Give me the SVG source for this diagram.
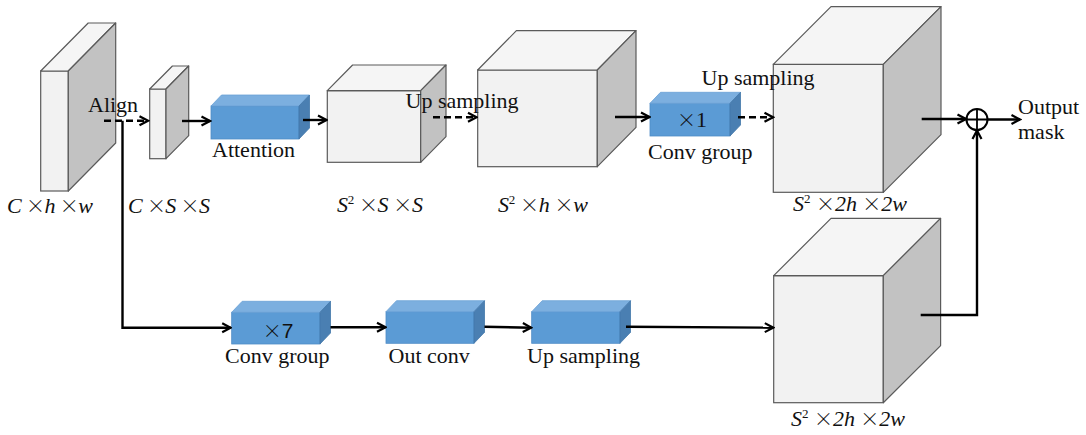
<svg xmlns="http://www.w3.org/2000/svg" width="1086" height="435" viewBox="0 0 1086 435">
  <style>
    .front { fill: #f2f2f2; stroke: #5a5a5a; stroke-width: 1.2; }
    .top { fill: #f5f5f5; stroke: #5a5a5a; stroke-width: 1.2; stroke-linejoin: round; }
    .side { fill: #c2c2c2; stroke: #5a5a5a; stroke-width: 1.2; stroke-linejoin: round; }
    .bfront { fill: #5b9bd5; stroke: #4f8cc6; stroke-width: 0.8; }
    .btop { fill: #7cafdf; stroke: #6aa1d6; stroke-width: 0.8; }
    .bside { fill: #4a7fb2; stroke: #4377aa; stroke-width: 0.8; }
    .lbl { font-family: "Liberation Serif", "Times New Roman", serif; font-size: 22px; fill: #111; }
    .dim { font-family: "Liberation Serif", "Times New Roman", serif; font-size: 22px; fill: #111; }
    .it { font-style: italic; }
    .x { font-family: "Noto Sans CJK SC", "Liberation Serif", sans-serif; font-size: 19px; font-style: normal; font-weight: 300; }
    .sup { font-size: 13px; }
    .wire { fill: none; stroke: #000; stroke-width: 2.4; }
    .dash { stroke-dasharray: 7 4; }
  </style>
  <defs>
    <marker id="arrow" viewBox="0 0 12 12" refX="10.5" refY="6" markerWidth="12" markerHeight="12" markerUnits="userSpaceOnUse" orient="auto">
      <path d="M2,1.5 L10.5,6 L2,10.5" fill="none" stroke="#000" stroke-width="2.2" stroke-linejoin="miter"/>
    </marker>
  </defs>

  <rect width="1086" height="435" fill="#ffffff"/>

  <!-- input feature map C x h x w -->
  <g id="feat-input">
    <rect class="front" x="40.7" y="71" width="27.6" height="120"/>
    <polygon class="top" points="40.7,71 88.2,23 115.7,23 68.3,71"/>
    <polygon class="side" points="68.3,71 115.7,23 115.7,143 68.3,191"/>
    <text class="dim" x="7" y="213" textLength="86" lengthAdjust="spacing"><tspan class="it">C</tspan> <tspan class="x">×</tspan><tspan class="it">h</tspan> <tspan class="x">×</tspan><tspan class="it">w</tspan></text>
  </g>

  <!-- aligned feature C x S x S -->
  <g id="feat-align">
    <rect class="front" x="149.7" y="89" width="16.3" height="69.7"/>
    <polygon class="top" points="149.7,89 172.4,66 188.7,66 166,89"/>
    <polygon class="side" points="166,89 188.7,66 188.7,135.7 166,158.7"/>
    <text class="dim" x="128" y="213" textLength="82" lengthAdjust="spacing"><tspan class="it">C</tspan> <tspan class="x">×</tspan><tspan class="it">S</tspan> <tspan class="x">×</tspan><tspan class="it">S</tspan></text>
  </g>

  <!-- attention block -->
  <g id="attention">
    <rect class="bfront" x="211" y="106" width="88" height="33"/>
    <polygon class="btop" points="211,106 221.5,95 309.5,95 299,106"/>
    <polygon class="bside" points="299,106 309.5,95 309.5,128 299,139"/>
    <text class="lbl" x="212" y="157">Attention</text>
  </g>

  <!-- S^2 x S x S -->
  <g id="feat-s2ss">
    <rect class="front" x="327.3" y="90.7" width="93.4" height="71.6"/>
    <polygon class="top" points="327.3,90.7 352.6,65 446,65 420.7,90.7"/>
    <polygon class="side" points="420.7,90.7 446,65 446,136.6 420.7,162.3"/>
    <text class="dim" x="337" y="212" textLength="86" lengthAdjust="spacing"><tspan class="it">S</tspan><tspan class="sup" dy="-8">2</tspan><tspan dy="8"> </tspan><tspan class="x">×</tspan><tspan class="it">S</tspan> <tspan class="x">×</tspan><tspan class="it">S</tspan></text>
  </g>

  <!-- S^2 x h x w -->
  <g id="feat-s2hw">
    <rect class="front" x="477.7" y="70" width="119.6" height="96.7"/>
    <polygon class="top" points="477.7,70 516.4,30.7 636,30.7 597.3,70"/>
    <polygon class="side" points="597.3,70 636,30.7 636,127.4 597.3,166.7"/>
    <text class="dim" x="498" y="212" textLength="90" lengthAdjust="spacing"><tspan class="it">S</tspan><tspan class="sup" dy="-8">2</tspan><tspan dy="8"> </tspan><tspan class="x">×</tspan><tspan class="it">h</tspan> <tspan class="x">×</tspan><tspan class="it">w</tspan></text>
  </g>

  <!-- conv group x1 -->
  <g id="conv-group-1">
    <rect class="bfront" x="650" y="103.3" width="80" height="32.7"/>
    <polygon class="btop" points="650,103.3 660.5,92.3 740.5,92.3 730,103.3"/>
    <polygon class="bside" points="730,103.3 740.5,92.3 740.5,125 730,136"/>
    <text class="lbl" x="692" y="127" text-anchor="middle"><tspan class="x">×</tspan>1</text>
    <text class="lbl" x="648" y="159">Conv group</text>
  </g>

  <!-- upper output S^2 x 2h x 2w -->
  <g id="feat-upper-out">
    <rect class="front" x="773.3" y="64.3" width="110" height="128"/>
    <polygon class="top" points="773.3,64.3 831,6.7 941,6.7 883.3,64.3"/>
    <polygon class="side" points="883.3,64.3 941,6.7 941,134.7 883.3,192.3"/>
    <text class="dim" x="793" y="211" textLength="114" lengthAdjust="spacing"><tspan class="it">S</tspan><tspan class="sup" dy="-8">2</tspan><tspan dy="8"> </tspan><tspan class="x">×</tspan><tspan class="it">2h</tspan> <tspan class="x">×</tspan><tspan class="it">2w</tspan></text>
  </g>

  <!-- lower branch: conv group x7 -->
  <g id="conv-group-7">
    <rect class="bfront" x="231.7" y="312.3" width="88.3" height="31.7"/>
    <polygon class="btop" points="231.7,312.3 242.2,301.3 330.5,301.3 320,312.3"/>
    <polygon class="bside" points="320,312.3 330.5,301.3 330.5,333 320,344"/>
    <text x="278" y="338" text-anchor="middle" font-family="'Liberation Sans', Arial, sans-serif" font-size="21" fill="#111"><tspan class="x">×</tspan>7</text>
    <text class="lbl" x="225" y="362.5">Conv group</text>
  </g>

  <!-- out conv -->
  <g id="out-conv">
    <rect class="bfront" x="386" y="311.7" width="88" height="31.6"/>
    <polygon class="btop" points="386,311.7 396.5,300.7 484.5,300.7 474,311.7"/>
    <polygon class="bside" points="474,311.7 484.5,300.7 484.5,332.3 474,343.3"/>
    <text class="lbl" x="388.5" y="363">Out conv</text>
  </g>

  <!-- up sampling (lower) -->
  <g id="up-sampling-lower">
    <rect class="bfront" x="531.7" y="311.7" width="88.3" height="31.6"/>
    <polygon class="btop" points="531.7,311.7 542.2,300.7 630.5,300.7 620,311.7"/>
    <polygon class="bside" points="620,311.7 630.5,300.7 630.5,332.3 620,343.3"/>
    <text class="lbl" x="527" y="363">Up sampling</text>
  </g>

  <!-- lower output S^2 x 2h x 2w -->
  <g id="feat-lower-out">
    <rect class="front" x="773.7" y="275.7" width="109.6" height="127"/>
    <polygon class="top" points="773.7,275.7 831,218.3 940.6,218.3 883.3,275.7"/>
    <polygon class="side" points="883.3,275.7 940.6,218.3 940.6,345.6 883.3,402.7"/>
    <text class="dim" x="791" y="426" textLength="114" lengthAdjust="spacing"><tspan class="it">S</tspan><tspan class="sup" dy="-8">2</tspan><tspan dy="8"> </tspan><tspan class="x">×</tspan><tspan class="it">2h</tspan> <tspan class="x">×</tspan><tspan class="it">2w</tspan></text>
  </g>

  <!-- element-wise sum -->
  <g id="sum">
    <circle cx="977" cy="119.5" r="10.5" fill="#fff" stroke="#000" stroke-width="2"/>
    <path d="M966.5,119.5 H987.5 M977,109 V130" stroke="#000" stroke-width="1.8"/>
  </g>

  <!-- output label -->
  <g id="output">
    <text class="lbl" x="1018" y="114">Output</text>
    <text class="lbl" x="1018" y="139">mask</text>
  </g>

  <!-- free labels on connectors -->
  <g id="labels">
    <text class="lbl" x="88" y="112">Align</text>
    <text class="lbl" x="405.5" y="108">Up sampling</text>
    <text class="lbl" x="701.5" y="85">Up sampling</text>
  </g>

  <!-- connectors -->
  <g id="connectors">
    <path class="wire dash" d="M104,120.7 H148" marker-end="url(#arrow)"/>
    <path class="wire" d="M122.5,120.7 V327.7 H230.7" marker-end="url(#arrow)"/>
    <path class="wire" d="M182,121 H210" marker-end="url(#arrow)"/>
    <path class="wire" d="M303,120 H326.5" marker-end="url(#arrow)"/>
    <path class="wire dash" d="M433,117.3 H476.5" marker-end="url(#arrow)"/>
    <path class="wire" d="M615,117 H649.5" marker-end="url(#arrow)"/>
    <path class="wire dash" d="M738,117.3 H773" marker-end="url(#arrow)"/>
    <path class="wire" d="M921.7,119 H966" marker-end="url(#arrow)"/>
    <path class="wire" d="M987.5,119.5 H1020" marker-end="url(#arrow)"/>
    <path class="wire" d="M920.7,315 H977 V130.5" marker-end="url(#arrow)"/>
    <path class="wire" d="M330.5,327.3 H385.5" marker-end="url(#arrow)"/>
    <path class="wire" d="M484.5,326.7 L531.3,327.7" marker-end="url(#arrow)"/>
    <path class="wire" d="M626,326.7 L773.3,327.7" marker-end="url(#arrow)"/>
  </g>
</svg>
